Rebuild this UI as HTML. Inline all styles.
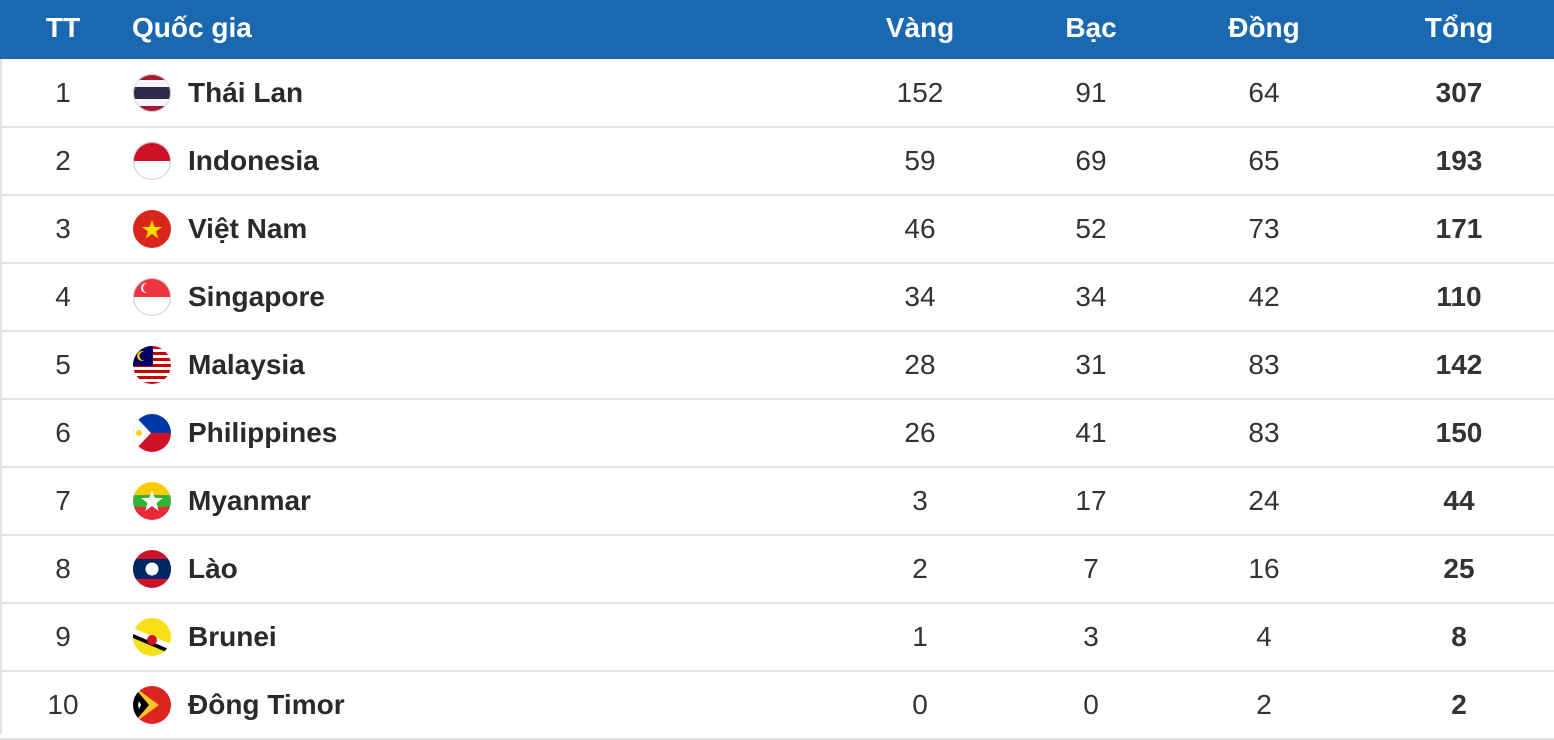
<!DOCTYPE html>
<html><head><meta charset="utf-8"><style>
body{margin:0;width:1554px;height:734px;overflow:hidden;background:#fff;font-family:"Liberation Sans",Arial,sans-serif;position:relative}
.hd{position:absolute;left:0;top:0;width:1554px;height:59px;background:#1a68b0}
.h{position:absolute;top:0;line-height:56px;color:#fff;font-weight:bold;font-size:28px;transform:translateX(-50%)}
.row{position:absolute;left:0;width:1554px;height:68px;border-bottom:2px solid #e2e2e2;box-sizing:border-box}
.c{position:absolute;top:0;line-height:66px;font-size:28px;color:#333;transform:translateX(-50%)}
.n{position:absolute;left:188px;top:0;line-height:66px;font-size:28px;font-weight:bold;color:#2a2a2a}
.b{font-weight:bold}
.f{position:absolute;left:133px;top:14px}
.lb{position:absolute;left:0;top:59px;width:2px;height:675px;background:#e2e2e2}
</style></head><body>
<div class="hd">
<div class="h" style="left:63px">TT</div>
<div class="h" style="left:191px;transform:none;left:132px">Quốc gia</div>
<div class="h" style="left:920px">Vàng</div>
<div class="h" style="left:1091px">Bạc</div>
<div class="h" style="left:1264px">Đồng</div>
<div class="h" style="left:1459px">Tổng</div>
</div>
<svg width="0" height="0" style="position:absolute"><defs><clipPath id="cc"><circle cx="19" cy="19" r="19"/></clipPath></defs></svg>

<div class="row" style="top:60px"><div class="c" style="left:63px">1</div>
<svg class="f" width="38" height="38"><g clip-path="url(#cc)"><rect width="38" height="38" fill="#a51931"/><rect y="6" width="38" height="26" fill="#f4f5f8"/><rect y="13" width="38" height="12" fill="#2d2a4a"/></g><circle cx="19" cy="19" r="18.5" fill="none" stroke="#ddd"/></svg>
<div class="n">Thái Lan</div><div class="c" style="left:920px">152</div><div class="c" style="left:1091px">91</div><div class="c" style="left:1264px">64</div><div class="c b" style="left:1459px">307</div></div>

<div class="row" style="top:128px"><div class="c" style="left:63px">2</div>
<svg class="f" width="38" height="38"><g clip-path="url(#cc)"><rect width="38" height="38" fill="#fff"/><rect width="38" height="19" fill="#ce1126"/></g><circle cx="19" cy="19" r="18.5" fill="none" stroke="#ccc"/></svg>
<div class="n">Indonesia</div><div class="c" style="left:920px">59</div><div class="c" style="left:1091px">69</div><div class="c" style="left:1264px">65</div><div class="c b" style="left:1459px">193</div></div>

<div class="row" style="top:196px"><div class="c" style="left:63px">3</div>
<svg class="f" width="38" height="38"><circle cx="19" cy="19" r="19" fill="#da251d"/><polygon points="19,10 21.6,17 29,17 23,21.5 25.3,28.5 19,24 12.7,28.5 15,21.5 9,17 16.4,17" fill="#ffdd00"/></svg>
<div class="n">Việt Nam</div><div class="c" style="left:920px">46</div><div class="c" style="left:1091px">52</div><div class="c" style="left:1264px">73</div><div class="c b" style="left:1459px">171</div></div>

<div class="row" style="top:264px"><div class="c" style="left:63px">4</div>
<svg class="f" width="38" height="38"><g clip-path="url(#cc)"><rect width="38" height="38" fill="#fff"/><rect width="38" height="19" fill="#ef3340"/><circle cx="13" cy="10" r="5" fill="#fff"/><circle cx="15" cy="10" r="5" fill="#ef3340"/></g><circle cx="19" cy="19" r="18.5" fill="none" stroke="#ccc"/></svg>
<div class="n">Singapore</div><div class="c" style="left:920px">34</div><div class="c" style="left:1091px">34</div><div class="c" style="left:1264px">42</div><div class="c b" style="left:1459px">110</div></div>

<div class="row" style="top:332px"><div class="c" style="left:63px">5</div>
<svg class="f" width="38" height="38"><g clip-path="url(#cc)"><rect width="38" height="38" fill="#fff"/><rect y="0" width="38" height="3" fill="#cc0001"/><rect y="6" width="38" height="3" fill="#cc0001"/><rect y="12" width="38" height="3" fill="#cc0001"/><rect y="18" width="38" height="3" fill="#cc0001"/><rect y="24" width="38" height="3" fill="#cc0001"/><rect y="30" width="38" height="3" fill="#cc0001"/><rect y="36" width="38" height="3" fill="#cc0001"/><rect width="20" height="20" fill="#010066"/><circle cx="9" cy="10" r="5" fill="#fc0"/><circle cx="11" cy="10" r="4.5" fill="#010066"/></g></svg>
<div class="n">Malaysia</div><div class="c" style="left:920px">28</div><div class="c" style="left:1091px">31</div><div class="c" style="left:1264px">83</div><div class="c b" style="left:1459px">142</div></div>

<div class="row" style="top:400px"><div class="c" style="left:63px">6</div>
<svg class="f" width="38" height="38"><g clip-path="url(#cc)"><rect width="38" height="19" fill="#0038a8"/><rect y="19" width="38" height="19" fill="#ce1126"/><polygon points="0,0 18,19 0,38" fill="#fff"/><circle cx="6" cy="19" r="3" fill="#fcd116"/></g></svg>
<div class="n">Philippines</div><div class="c" style="left:920px">26</div><div class="c" style="left:1091px">41</div><div class="c" style="left:1264px">83</div><div class="c b" style="left:1459px">150</div></div>

<div class="row" style="top:468px"><div class="c" style="left:63px">7</div>
<svg class="f" width="38" height="38"><g clip-path="url(#cc)"><rect width="38" height="13" fill="#fecb00"/><rect y="13" width="38" height="12" fill="#34b233"/><rect y="25" width="38" height="13" fill="#ea2839"/></g><polygon points="19,8 21.8,16 30,16 23.4,21 25.8,29 19,24 12.2,29 14.6,21 8,16 16.2,16" fill="#fff"/></svg>
<div class="n">Myanmar</div><div class="c" style="left:920px">3</div><div class="c" style="left:1091px">17</div><div class="c" style="left:1264px">24</div><div class="c b" style="left:1459px">44</div></div>

<div class="row" style="top:536px"><div class="c" style="left:63px">8</div>
<svg class="f" width="38" height="38"><g clip-path="url(#cc)"><rect width="38" height="38" fill="#ce1126"/><rect y="9" width="38" height="20" fill="#002868"/></g><circle cx="19" cy="19" r="6.5" fill="#fff"/></svg>
<div class="n">Lào</div><div class="c" style="left:920px">2</div><div class="c" style="left:1091px">7</div><div class="c" style="left:1264px">16</div><div class="c b" style="left:1459px">25</div></div>

<div class="row" style="top:604px"><div class="c" style="left:63px">9</div>
<svg class="f" width="38" height="38"><g clip-path="url(#cc)"><rect width="38" height="38" fill="#f7e017"/><polygon points="0,10 38,26 38,34 0,18" fill="#fff"/><polygon points="0,16 38,32 38,36 0,20" fill="#000"/><circle cx="19" cy="22" r="5" fill="#cf1126"/></g></svg>
<div class="n">Brunei</div><div class="c" style="left:920px">1</div><div class="c" style="left:1091px">3</div><div class="c" style="left:1264px">4</div><div class="c b" style="left:1459px">8</div></div>

<div class="row" style="top:672px"><div class="c" style="left:63px">10</div>
<svg class="f" width="38" height="38"><g clip-path="url(#cc)"><rect width="38" height="38" fill="#dc241f"/><polygon points="0,0 26,19 0,38" fill="#ffc726"/><polygon points="0,0 16,19 0,38" fill="#000"/><polygon points="6,15 8,19 6,23 5,19" fill="#fff"/></g></svg>
<div class="n">Đông Timor</div><div class="c" style="left:920px">0</div><div class="c" style="left:1091px">0</div><div class="c" style="left:1264px">2</div><div class="c b" style="left:1459px">2</div></div>
<div class="lb"></div>
</body></html>
